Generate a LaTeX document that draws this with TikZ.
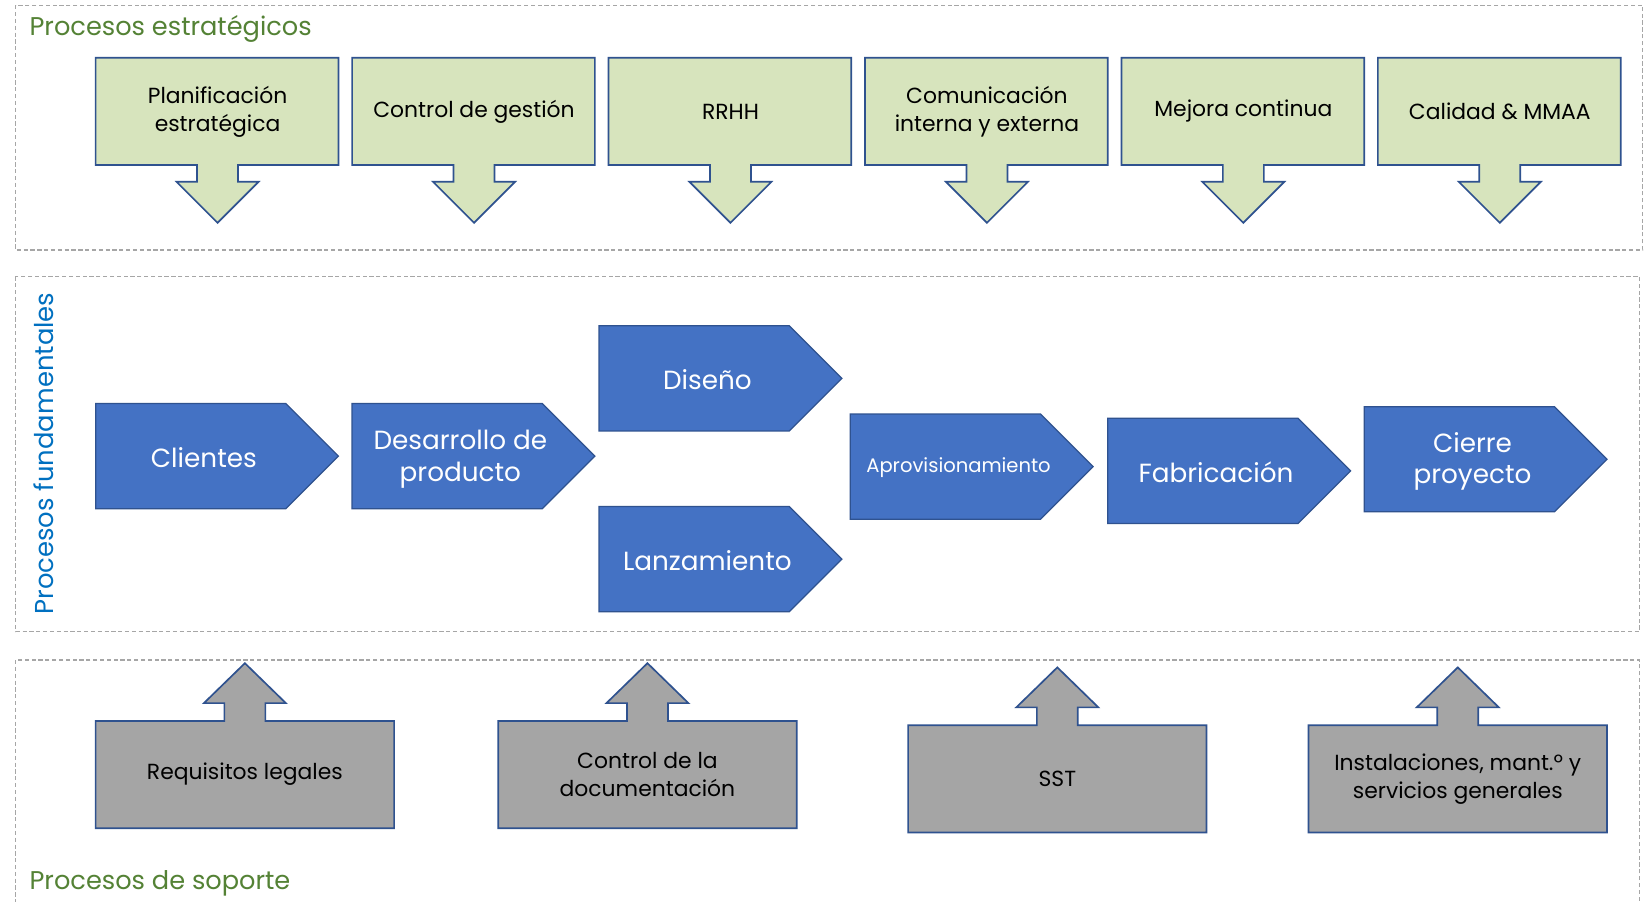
\documentclass[tikz,border=0pt]{standalone}
\usepackage{fontspec}
\setmainfont{Poppins}
\definecolor{dashgray}{HTML}{A6A6A6}
\definecolor{edgeblue}{HTML}{2F528F}
\definecolor{lightgreen}{HTML}{D7E4BD}
\definecolor{midblue}{HTML}{4472C4}
\definecolor{midgray}{HTML}{A5A5A5}
\definecolor{labgreen}{HTML}{548235}
\definecolor{labblue}{HTML}{0070C0}
\tikzset{
 dashbox/.style={draw=dashgray, line width=1.3pt, dash pattern=on 4pt off 2.5pt},
 greenshape/.style={draw=edgeblue, fill=lightgreen, line width=1.6pt},
 blueshape/.style={draw=edgeblue, fill=midblue, line width=1.2pt},
 grayshape/.style={draw=edgeblue, fill=midgray, line width=1.6pt},
 gtext/.style={text=black, align=center, font=\fontsize{20.8}{26.5}\selectfont, inner sep=0pt},
 btext/.style={text=white, align=center, font=\fontsize{25}{30}\selectfont, inner sep=0pt},
 sectlabel/.style={font=\fontsize{24.4}{28}\selectfont, inner sep=0pt},
}
% green box with down arrow: #1 x-left, #2 name, #3 text
\newcommand\greenproc[3]{%
  \draw[greenshape] (#1,55) -- ({#1+231},55) -- ({#1+231},157) -- ({#1+135.5},157)
    -- ({#1+135.5},173) -- ({#1+155},173) -- ({#1+116},212) -- ({#1+77},173)
    -- ({#1+96.5},173) -- ({#1+96.5},157) -- (#1,157) -- cycle;
  \node[gtext] (#2) at ({#1+116},106) {#3};
}
% blue pentagon: #1 x-left, #2 y-top, #3 name, #4 text, #5 extra style
\newcommand\blueproc[5]{%
  \draw[blueshape] (#1,#2) -- ({#1+181},#2) -- ({#1+231},{#2+50}) -- ({#1+181},{#2+100})
    -- (#1,{#2+100}) -- cycle;
  \node[btext,#5] (#3) at ({#1+103},{#2+51}) {#4};
}
% gray box with up arrow: #1 x-left, #2 y-top, #3 name, #4 text
\newcommand\grayproc[4]{%
  \draw[grayshape] (#1,#2) -- ({#1+122.5},#2) -- ({#1+122.5},{#2-17}) -- ({#1+103},{#2-17})
    -- ({#1+142},{#2-55}) -- ({#1+181},{#2-17}) -- ({#1+161.5},{#2-17}) -- ({#1+161.5},#2)
    -- ({#1+284},#2) -- ({#1+284},{#2+102}) -- (#1,{#2+102}) -- cycle;
  \node[gtext] (#3) at ({#1+142},{#2+51}) {#4};
}
\begin{document}
\begin{tikzpicture}[x=1pt,y=-1pt]
\useasboundingbox (0,0) rectangle (1568,858);
\clip (0,0) rectangle (1568,858);
\fill[white] (0,0) rectangle (1568,858);
% sections
\draw[dashbox] (15,5) rectangle (1563,238);
\draw[dashbox] (15,263) rectangle (1560,601);
\draw[dashbox] (15,628) rectangle (1560,880);
\node[sectlabel, text=labgreen, anchor=base west] (lstrat) at (28,33.5) {Procesos estratégicos};
\node[sectlabel, text=labblue, rotate=90, font=\fontsize{24.6}{28}\selectfont] (lfund) at (42,431.5) {Procesos fundamentales};
\node[sectlabel, text=labgreen, anchor=base west] (lsop) at (28,846) {Procesos de soporte};
% strategic
\greenproc{91}{plan}{Planificación\\estratégica}
\greenproc{335}{ctrl}{Control de gestión}
\greenproc{579}{rrhh}{RRHH}
\greenproc{823}{comu}{Comunicación\\interna y externa}
\greenproc{1067}{mejo}{Mejora continua}
\greenproc{1311}{cali}{Calidad \& MMAA}
% fundamental
\blueproc{91}{384}{clie}{Clientes}{}
\blueproc{335}{384}{desa}{Desarrollo de\\producto}{yshift=-2pt}
\blueproc{570}{310}{dise}{Diseño}{}
\blueproc{570}{482}{lanz}{Lanzamiento}{}
\blueproc{809}{394}{apro}{Aprovisionamiento}{font=\fontsize{18.6}{22}\selectfont}
\blueproc{1054}{398}{fabr}{Fabricación}{}
\blueproc{1298}{387}{cier}{Cierre\\proyecto}{yshift=-1pt}
% support
\grayproc{91}{686}{requ}{Requisitos legales}
\grayproc{474}{686}{docu}{Control de la\\documentación}
\grayproc{864}{690}{sst}{SST}
\grayproc{1245}{690}{inst}{Instalaciones, mant.º y\\servicios generales}
\end{tikzpicture}
\end{document}
